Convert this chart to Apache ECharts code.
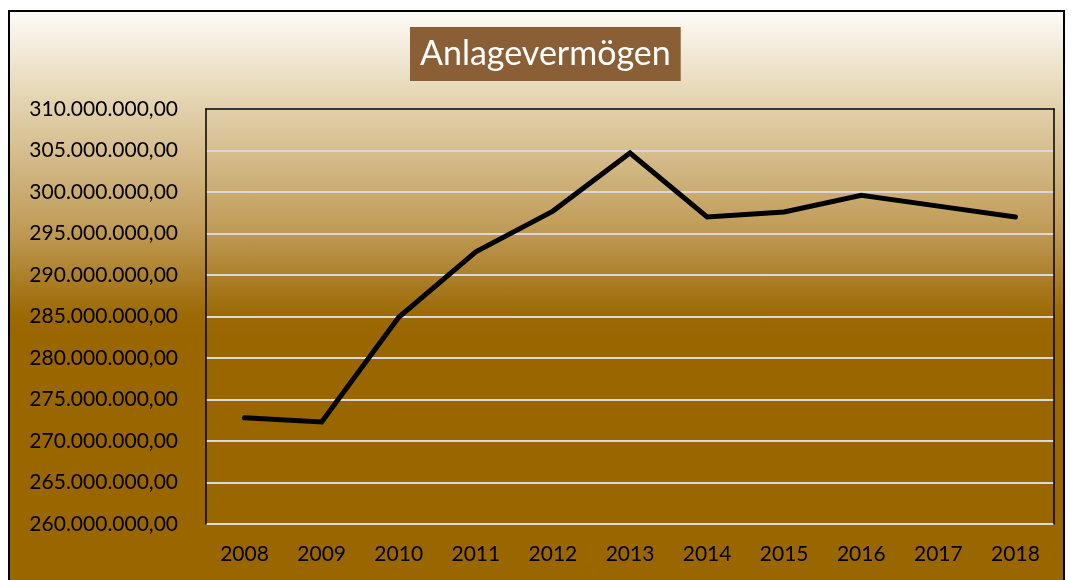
<!DOCTYPE html>
<html lang="de">
  <head>
    <meta charset="UTF-8" />
    <title>Anlagevermögen</title>
    <style>
      body {
        margin: 0;
        background: #ffffff;
      }
      #frame {
        position: absolute;
        left: 8px;
        top: 10px;
        width: 1053px;
        height: 580px;
        border: 2px solid #000;
        background: linear-gradient(to bottom, #fdfbf7 0%, #e6d7b6 14%, #bf9a55 38%, #9c6a06 52%, #996600 56%, #996600 100%);
      }
      #main {
        position: absolute;
        left: 0;
        top: 0;
        width: 1071px;
        height: 580px;
      }
    </style>
  </head>
  <body>
    <div id="frame"></div>
    <div id="main"></div>

    <script src="https://cdn.jsdelivr.net/npm/echarts@6/dist/echarts.min.js"></script>
    <script>
      const years = ['2008', '2009', '2010', '2011', '2012', '2013', '2014', '2015', '2016', '2017', '2018']
      const anlagevermoegen = [
        272800000, 272300000, 284900000, 292800000, 297700000, 304700000,
        297000000, 297600000, 299600000, 298300000, 297000000
      ]
      const yMin = 260000000
      const yMax = 310000000
      const yStep = 5000000

      // 310000000 -> "310.000.000,00"
      function deNumber(v) {
        const s = Math.round(v).toString().replace(/\B(?=(\d{3})+(?!\d))/g, '.')
        return s + ',00'
      }

      const font = 'Lato, "Open Sans", sans-serif'
      let chart = echarts.init(document.getElementById('main'))
      let option = {
        backgroundColor: 'transparent',
        title: {
          text: 'Anlagevermögen',
          left: 410,
          top: 27,
          backgroundColor: '#8b5f35',
          padding: [8, 10, 8, 10],
          textStyle: {
            color: '#ffffff',
            fontFamily: font,
            fontWeight: 'normal',
            fontSize: 34,
            lineHeight: 38
          }
        },
        grid: {
          left: 206,
          top: 109,
          width: 848,
          height: 415,
          show: false
        },
        xAxis: [
          {
            type: 'category',
            data: years,
            boundaryGap: true,
            axisLine: { show: false },
            axisTick: { show: false },
            axisLabel: {
              color: '#000',
              fontFamily: font,
              fontSize: 21,
              margin: 20
            }
          },
          {
            // top border of the plot area
            type: 'category',
            data: years,
            position: 'top',
            axisLine: { show: true, lineStyle: { color: '#000', width: 1.5 } },
            axisTick: { show: false },
            axisLabel: { show: false },
            z: 10
          }
        ],
        yAxis: [
          {
            type: 'value',
            min: yMin,
            max: yMax,
            interval: yStep,
            axisLine: { show: true, lineStyle: { color: '#000', width: 1.5 } },
            axisTick: { show: false },
            splitLine: { lineStyle: { color: '#d9d9d9', width: 2 } },
            axisLabel: {
              formatter: deNumber,
              color: '#000',
              fontFamily: font,
              fontSize: 21,
              margin: 28
            }
          },
          {
            // right border of the plot area
            type: 'value',
            min: yMin,
            max: yMax,
            interval: yStep,
            position: 'right',
            axisLine: { show: true, lineStyle: { color: '#000', width: 1.5 } },
            axisTick: { show: false },
            axisLabel: { show: false },
            splitLine: { show: false },
            z: 10
          }
        ],
        series: [
          {
            name: 'Anlagevermögen',
            type: 'line',
            data: anlagevermoegen,
            symbol: 'none',
            lineStyle: { color: '#000', width: 5, cap: 'round', join: 'miter' },
            z: 5
          }
        ]
      }
      chart.setOption(option)
    </script>
  </body>
</html>
